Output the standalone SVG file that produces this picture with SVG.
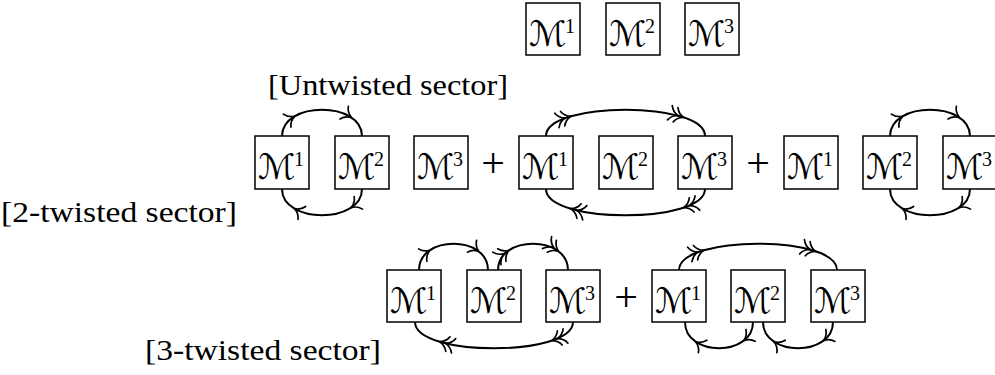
<svg xmlns="http://www.w3.org/2000/svg" xmlns:xlink="http://www.w3.org/1999/xlink" width="995" height="375" viewBox="0 0 995 375">
<style>
.box{fill:#fff;stroke:#000;stroke-width:1.5}
.m{font-family:"DejaVu Serif","DejaVu Sans",serif;font-size:35px;fill:#000}
.sup{font-family:"Liberation Serif",serif;font-size:20px}
.lbl{font-family:"Liberation Serif",serif;font-size:30px;fill:#000}
.plus{font-family:"Liberation Serif",serif;font-size:42px;fill:#000}
.arc{fill:none;stroke:#000;stroke-width:2}
.tip{fill:none;stroke:#000;stroke-width:1.7;stroke-linecap:round}
</style>
<defs>
<path id="t1" class="tip" d="M-8.5,-7.5 C-6.5,-3 -2.5,-0.8 0,0 C-2.5,0.8 -6.5,3 -8.5,7.5"/>
<g id="t2"><use xlink:href="#t1" href="#t1"/><use xlink:href="#t1" href="#t1" x="-6"/></g>
</defs>

<!-- top row -->
<g id="top-m1"><rect class="box" x="526" y="3" width="54" height="52"/><text class="m" x="529" y="46">ℳ<tspan class="sup" x="565" dy="-13">1</tspan></text></g>
<g id="top-m2"><rect class="box" x="606" y="3" width="54" height="52"/><text class="m" x="609" y="46">ℳ<tspan class="sup" x="645" dy="-13">2</tspan></text></g>
<g id="top-m3"><rect class="box" x="685" y="3" width="54" height="52"/><text class="m" x="688" y="46">ℳ<tspan class="sup" x="724" dy="-13">3</tspan></text></g>

<text class="lbl" x="268" y="95" textLength="240" lengthAdjust="spacingAndGlyphs">[Untwisted sector]</text>
<text class="lbl" x="1" y="222" textLength="236" lengthAdjust="spacingAndGlyphs">[2-twisted sector]</text>
<text class="lbl" x="145" y="360" textLength="236" lengthAdjust="spacingAndGlyphs">[3-twisted sector]</text>

<!-- row 2 nodes -->
<g id="r2g1-m1"><rect class="box" x="255" y="136" width="54" height="53"/><text class="m" x="258" y="179">ℳ<tspan class="sup" x="294" dy="-13">1</tspan></text></g>
<g id="r2g1-m2"><rect class="box" x="335" y="136" width="54" height="53"/><text class="m" x="338" y="179">ℳ<tspan class="sup" x="374" dy="-13">2</tspan></text></g>
<g id="r2g1-m3"><rect class="box" x="414" y="136" width="54" height="53"/><text class="m" x="417" y="179">ℳ<tspan class="sup" x="453" dy="-13">3</tspan></text></g>
<text class="plus" x="493" y="177" text-anchor="middle">+</text>
<g id="r2g2-m1"><rect class="box" x="519" y="136" width="54" height="53"/><text class="m" x="522" y="179">ℳ<tspan class="sup" x="558" dy="-13">1</tspan></text></g>
<g id="r2g2-m2"><rect class="box" x="599" y="136" width="54" height="53"/><text class="m" x="602" y="179">ℳ<tspan class="sup" x="638" dy="-13">2</tspan></text></g>
<g id="r2g2-m3"><rect class="box" x="678" y="136" width="54" height="53"/><text class="m" x="681" y="179">ℳ<tspan class="sup" x="717" dy="-13">3</tspan></text></g>
<text class="plus" x="758" y="177" text-anchor="middle">+</text>
<g id="r2g3-m1"><rect class="box" x="784" y="136" width="54" height="53"/><text class="m" x="787" y="179">ℳ<tspan class="sup" x="823" dy="-13">1</tspan></text></g>
<g id="r2g3-m2"><rect class="box" x="863" y="136" width="54" height="53"/><text class="m" x="866" y="179">ℳ<tspan class="sup" x="902" dy="-13">2</tspan></text></g>
<g id="r2g3-m3"><rect class="box" x="943" y="136" width="54" height="53"/><text class="m" x="946" y="179">ℳ<tspan class="sup" x="982" dy="-13">3</tspan></text></g>

<!-- row 3 nodes -->
<g id="r3g1-m1"><rect class="box" x="387" y="270" width="54" height="52"/><text class="m" x="390" y="313">ℳ<tspan class="sup" x="426" dy="-13">1</tspan></text></g>
<g id="r3g1-m2"><rect class="box" x="467" y="270" width="54" height="52"/><text class="m" x="470" y="313">ℳ<tspan class="sup" x="506" dy="-13">2</tspan></text></g>
<g id="r3g1-m3"><rect class="box" x="546" y="270" width="54" height="52"/><text class="m" x="549" y="313">ℳ<tspan class="sup" x="585" dy="-13">3</tspan></text></g>
<text class="plus" x="626" y="311" text-anchor="middle">+</text>
<g id="r3g2-m1"><rect class="box" x="652" y="270" width="54" height="52"/><text class="m" x="655" y="313">ℳ<tspan class="sup" x="691" dy="-13">1</tspan></text></g>
<g id="r3g2-m2"><rect class="box" x="731" y="270" width="54" height="52"/><text class="m" x="734" y="313">ℳ<tspan class="sup" x="770" dy="-13">2</tspan></text></g>
<g id="r3g2-m3"><rect class="box" x="811" y="270" width="54" height="52"/><text class="m" x="814" y="313">ℳ<tspan class="sup" x="850" dy="-13">3</tspan></text></g>

<!-- connectors -->
<g id="connectors">
<path class="arc" d="M282,136 C282,101 362,101 362,136"/>
<path class="arc" d="M282,189 C282,224 362,224 362,189"/>
<use href="#t1" xlink:href="#t1" transform="translate(294.5,116.31) rotate(-30.26)"/>
<use href="#t1" xlink:href="#t1" transform="translate(351.25,117.4) rotate(33.7)"/>
<use href="#t1" xlink:href="#t1" transform="translate(294.5,208.69) rotate(-149.74)"/>
<use href="#t1" xlink:href="#t1" transform="translate(351.25,207.6) rotate(146.3)"/>

<path class="arc" d="M546,136 C546,101 705,101 705,136"/>
<path class="arc" d="M546,189 C546,224 705,224 705,189"/>
<use href="#t2" xlink:href="#t2" transform="translate(570.84,116.31) rotate(-16.35)"/>
<use href="#t2" xlink:href="#t2" transform="translate(683.64,117.4) rotate(18.55)"/>
<use href="#t2" xlink:href="#t2" transform="translate(570.84,208.69) rotate(-163.65)"/>
<use href="#t2" xlink:href="#t2" transform="translate(683.64,207.6) rotate(161.45)"/>

<path class="arc" d="M890,136 C890,101 970,101 970,136"/>
<path class="arc" d="M890,189 C890,224 970,224 970,189"/>
<use href="#t1" xlink:href="#t1" transform="translate(902.5,116.31) rotate(-30.26)"/>
<use href="#t1" xlink:href="#t1" transform="translate(959.25,117.4) rotate(33.7)"/>
<use href="#t1" xlink:href="#t1" transform="translate(902.5,208.69) rotate(-149.74)"/>
<use href="#t1" xlink:href="#t1" transform="translate(959.25,207.6) rotate(146.3)"/>

<path class="arc" d="M419,270 C419,235 488,235 488,270"/>
<path class="arc" d="M498,270 C498,235 568,235 568,270"/>
<path class="arc" d="M415,322 C415,357 573,357 573,322"/>
<use href="#t1" xlink:href="#t1" transform="translate(429.78,250.31) rotate(-34.08)"/>
<use href="#t1" xlink:href="#t1" transform="translate(478.73,251.4) rotate(37.72)"/>
<use href="#t2" xlink:href="#t2" transform="translate(508.94,250.31) rotate(-33.69)"/>
<use href="#t2" xlink:href="#t2" transform="translate(558.59,251.4) rotate(37.32)"/>
<use href="#t2" xlink:href="#t2" transform="translate(439.69,341.69) rotate(-163.55)"/>
<use href="#t2" xlink:href="#t2" transform="translate(551.77,340.6) rotate(161.34)"/>

<path class="arc" d="M679,270 C679,235 837,235 837,270"/>
<path class="arc" d="M685,322 C685,357 753,357 753,322"/>
<path class="arc" d="M763,322 C763,357 833,357 833,322"/>
<use href="#t2" xlink:href="#t2" transform="translate(703.69,250.31) rotate(-16.45)"/>
<use href="#t2" xlink:href="#t2" transform="translate(815.77,251.4) rotate(18.66)"/>
<use href="#t1" xlink:href="#t1" transform="translate(695.63,341.69) rotate(-145.54)"/>
<use href="#t1" xlink:href="#t1" transform="translate(743.86,340.6) rotate(141.88)"/>
<use href="#t1" xlink:href="#t1" transform="translate(773.94,341.69) rotate(-146.31)"/>
<use href="#t1" xlink:href="#t1" transform="translate(823.59,340.6) rotate(142.68)"/>
</g>
</svg>
